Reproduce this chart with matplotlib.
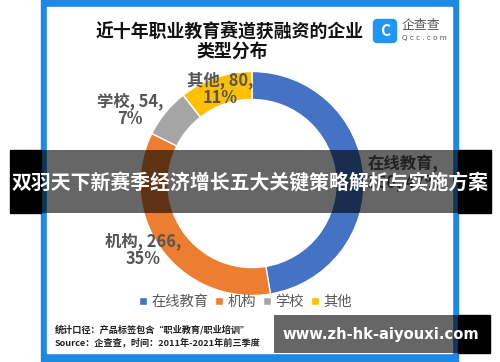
import matplotlib.pyplot as plt
from matplotlib.patches import Rectangle, FancyBboxPatch

plt.rcParams['font.family'] = ['Noto Sans CJK SC', 'DejaVu Sans']

# data
categories = ["在线教育", "机构", "学校", "其他"]
counts = [360, 266, 54, 80]
percents = ["47%", "35%", "7%", "11%"]
colors = ["#4472C4", "#ED7D31", "#A5A5A5", "#FFC000"]

banner = "双羽天下新赛季经济增长五大关键策略解析与实施方案"
site = "www.zh-hk-aiyouxi.com"
note1 = "统计口径：产品标签包含“职业教育/职业培训”"
note2 = "Source：企查查，时间：2011年-2021年前三季度"

W, H = 500, 362
fig = plt.figure(figsize=(W / 100, H / 100), dpi=100)

# background layer in pixel coords
bg = fig.add_axes([0, 0, 1, 1], zorder=0)
bg.set_xlim(0, W)
bg.set_ylim(H, 0)
bg.axis("off")
bg.add_patch(Rectangle((41, -5), 417, H + 10, color="#1E88E5"))
bg.add_patch(Rectangle((47, 7), 405, 346, color="white"))

# title
bg.text(230, 31, "近十年职业教育赛道获融资的企业", ha="center", va="center",
        fontsize=12.9, fontweight="bold", color="#111111")
bg.text(232, 52, "类型分布", ha="center", va="center",
        fontsize=12.9, fontweight="bold", color="#111111")

# logo
bg.add_patch(FancyBboxPatch((375, 21), 20, 20, boxstyle="round,pad=1.5,rounding_size=4",
                            color="#2196F3"))
bg.text(385, 31.5, "C", ha="center", va="center", fontsize=11, fontweight="bold", color="white")
bg.text(402, 25.5, "企查查", ha="left", va="center", fontsize=9.3, color="#555555")
bg.text(402, 38, "Q c c . c o m", ha="left", va="center", fontsize=5.2, color="#555555",
        family="DejaVu Sans")

# source notes
bg.text(55, 330, note1, ha="left", va="center", fontsize=6.6, fontweight="bold", color="#222222")
bg.text(55, 342.5, note2, ha="left", va="center", fontsize=6.6, fontweight="bold", color="#222222")

# donut
cx, cy, r = 252, 183.5, 112
ax = fig.add_axes([(cx - r) / W, 1 - (cy + r) / H, 2 * r / W, 2 * r / H], zorder=1)
ax.patch.set_alpha(0)
wedges, _ = ax.pie(counts, colors=colors, startangle=90, counterclock=False, radius=1,
                   wedgeprops=dict(width=0.25, edgecolor="white", linewidth=1))
ax.set_xlim(-1, 1)
ax.set_ylim(-1, 1)

# label spots, in units of the donut radius
label_xy = [(1.35, 0.094), (-0.97, -0.594), (-1.09, 0.656), (-0.286, 0.844)]
for i in range(len(categories)):
    if i == 0:
        txt = f"{categories[i]},\n{counts[i]}, {percents[i]}"
    else:
        txt = f"{categories[i]}, {counts[i]},\n{percents[i]}"
    ax.text(label_xy[i][0], label_xy[i][1], txt, ha="center", va="center",
            fontsize=11.8, fontweight="bold", color="#555555", linespacing=1.0, clip_on=False)

leg = ax.legend(wedges, categories, ncol=4, loc="center", bbox_to_anchor=(0.47, -0.03),
                frameon=False, handlelength=0.55, handleheight=0.55, handletextpad=0.3,
                columnspacing=0.5, fontsize=10.3, labelcolor="#595959")

# overlays on top
top = fig.add_axes([0, 0, 1, 1], zorder=2)
top.set_xlim(0, W)
top.set_ylim(H, 0)
top.axis("off")
top.patch.set_alpha(0)
top.add_patch(Rectangle((10, 150), 31, 63, color="black"))
top.add_patch(Rectangle((458, 150), 33, 63, color="black"))
top.add_patch(Rectangle((41, 150), 417, 63, color="black", alpha=0.6, lw=0))
top.text(250, 182.5, banner, ha="center", va="center", fontsize=14.3, fontweight="bold",
         color="white")

top.add_patch(Rectangle((274, 315), 184, 38, color="black", alpha=0.6, lw=0))
top.add_patch(Rectangle((458, 315), 32, 38, color="black"))
top.text(381, 334.5, site, ha="center", va="center", fontsize=10.6, fontweight="bold",
         color="white", family="DejaVu Sans")

fig.savefig("out.png", dpi=100)
